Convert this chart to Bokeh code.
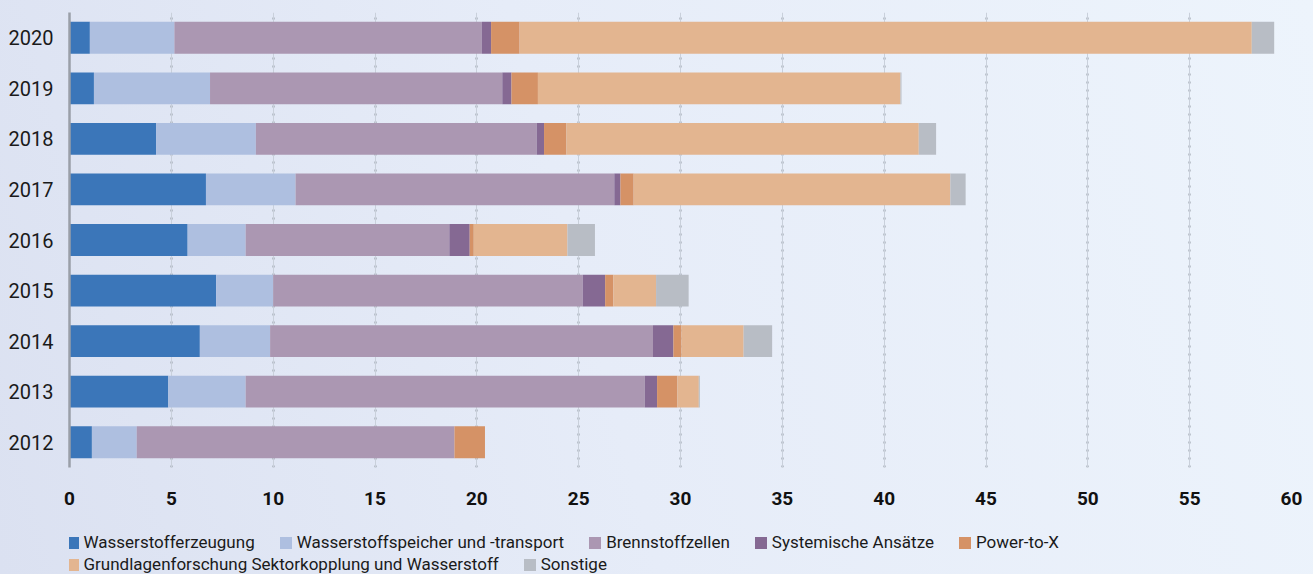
from bokeh.plotting import figure
from bokeh.layouts import column
from bokeh.models import (ColumnDataSource, FactorRange, FixedTicker, Legend, LegendItem, Grid, Range1d)
from bokeh.embed import file_html
from bokeh.resources import INLINE

years = ["2012", "2013", "2014", "2015", "2016", "2017", "2018", "2019", "2020"]
erzeugung = [1.1, 4.85, 6.4, 7.2, 5.8, 6.7, 4.25, 1.2, 1.0]
speicher = [2.2, 3.8, 3.45, 2.8, 2.85, 4.4, 4.9, 5.7, 4.15]
brennstoff = [15.6, 19.6, 18.8, 15.2, 10.0, 15.65, 13.8, 14.35, 15.1]
systemisch = [0.0, 0.6, 1.0, 1.1, 1.0, 0.3, 0.35, 0.45, 0.45]
power_to_x = [1.5, 1.0, 0.4, 0.4, 0.2, 0.65, 1.1, 1.3, 1.4]
grundlagen = [0.0, 1.05, 3.05, 2.1, 4.6, 15.55, 17.3, 17.8, 35.95]
sonstige = [0.0, 0.05, 1.4, 1.6, 1.35, 0.75, 0.85, 0.05, 1.1]

series_keys = ["erzeugung", "speicher", "brennstoff", "systemisch", "power_to_x", "grundlagen", "sonstige"]
series_labels = ["Wasserstofferzeugung", "Wasserstoffspeicher und -transport", "Brennstoffzellen",
                 "Systemische Ansätze", "Power-to-X",
                 "Grundlagenforschung Sektorkopplung und Wasserstoff", "Sonstige"]
colors = ["#3b76b9", "#aebfe0", "#ab97b2", "#856993", "#d59266", "#e3b590", "#b8bdc5"]
x_ticks = [0, 5, 10, 15, 20, 25, 30, 35, 40, 45, 50, 55, 60]

src = ColumnDataSource(dict(year=years, erzeugung=erzeugung, speicher=speicher, brennstoff=brennstoff,
                            systemisch=systemisch, power_to_x=power_to_x, grundlagen=grundlagen,
                            sonstige=sonstige))

FONT = "Roboto"
W, H = 1313, 574
H_MAIN = 520
GRAD = "linear-gradient(75deg, #dbe1f1 0%, #e6ecf8 45%, #edf4fc 100%)"

p = figure(width=W, height=H_MAIN, y_range=FactorRange(factors=years), x_range=(0, 60),
           output_backend="svg", toolbar_location=None,
           min_border_left=69, min_border_right=22, min_border_top=12, min_border_bottom=H_MAIN - 467)
p.background_fill_alpha = 0
p.border_fill_alpha = 0
p.outline_line_color = None
p.styles = {"background-image": GRAD, "background-size": f"{W}px {H}px",
            "background-position": "0px 0px"}

renderers = p.hbar_stack(series_keys, y="year", height=0.63, fill_color=colors,
                         line_color=None, source=src)

# grid: faint solid line + dotted line
p.xgrid.ticker = FixedTicker(ticks=x_ticks)
p.xgrid.grid_line_color = "#8f96a0"
p.xgrid.grid_line_dash = "2 6"
p.xgrid.grid_line_width = 2
p.ygrid.grid_line_color = None
faint = Grid(dimension=0, ticker=FixedTicker(ticks=x_ticks), grid_line_color="#c9d0db", grid_line_width=1)
p.add_layout(faint)

xa = p.xaxis[0]
xa.ticker = FixedTicker(ticks=x_ticks)
xa.axis_line_color = None
xa.major_tick_line_color = None
xa.minor_tick_line_color = None
xa.major_tick_out = 0
xa.major_label_standoff = 24
xa.major_label_text_font = FONT
xa.major_label_text_font_style = "bold"
xa.major_label_text_font_size = "19px"
xa.major_label_text_color = "#111111"

ya = p.yaxis[0]
ya.axis_line_color = "#9a9fa8"
ya.axis_line_width = 2.5
ya.major_tick_line_color = None
ya.minor_tick_line_color = None
ya.major_tick_out = 0
ya.major_label_standoff = 16
ya.major_label_text_font = FONT
ya.major_label_text_font_size = "20px"
ya.major_label_text_color = "#1a1a1a"

# legend panel (separate figure below the chart, same series colours)
H_LEG = H - H_MAIN
pl = figure(width=W, height=H_LEG, x_range=Range1d(0, 1), y_range=Range1d(0, 1),
            output_backend="svg", toolbar_location=None, x_axis_type=None, y_axis_type=None,
            min_border=0)
pl.background_fill_alpha = 0
pl.border_fill_alpha = 0
pl.outline_line_color = None
pl.grid.visible = False
pl.styles = {"background-image": GRAD, "background-size": f"{W}px {H}px",
             "background-position": f"0px -{H_MAIN}px"}

# swatch renderers for the legend (zero-size bars, only their colours are shown in the legend)
leg_renderers = [pl.hbar(y=[0.5], left=[0], right=[0], height=0, fill_color=c, line_color=None)
                 for c in colors]
items = [LegendItem(label=lab, renderers=[r]) for lab, r in zip(series_labels, leg_renderers)]


def make_legend(its, loc):
    return Legend(items=its, location=loc, orientation="horizontal",
                  glyph_width=15, glyph_height=15, label_standoff=4, spacing=23,
                  label_height=20, padding=0, margin=0,
                  label_text_font=FONT, label_text_font_size="17px", label_text_color="#1a1a1a",
                  background_fill_alpha=0, border_line_color=None)


pl.add_layout(make_legend(items[:5], (-4.5, 22)), "center")
pl.add_layout(make_legend(items[5:], (-4.5, 0)), "center")

layout = column(p, pl, spacing=0)
open("out.html", "w").write(file_html(layout, INLINE))
